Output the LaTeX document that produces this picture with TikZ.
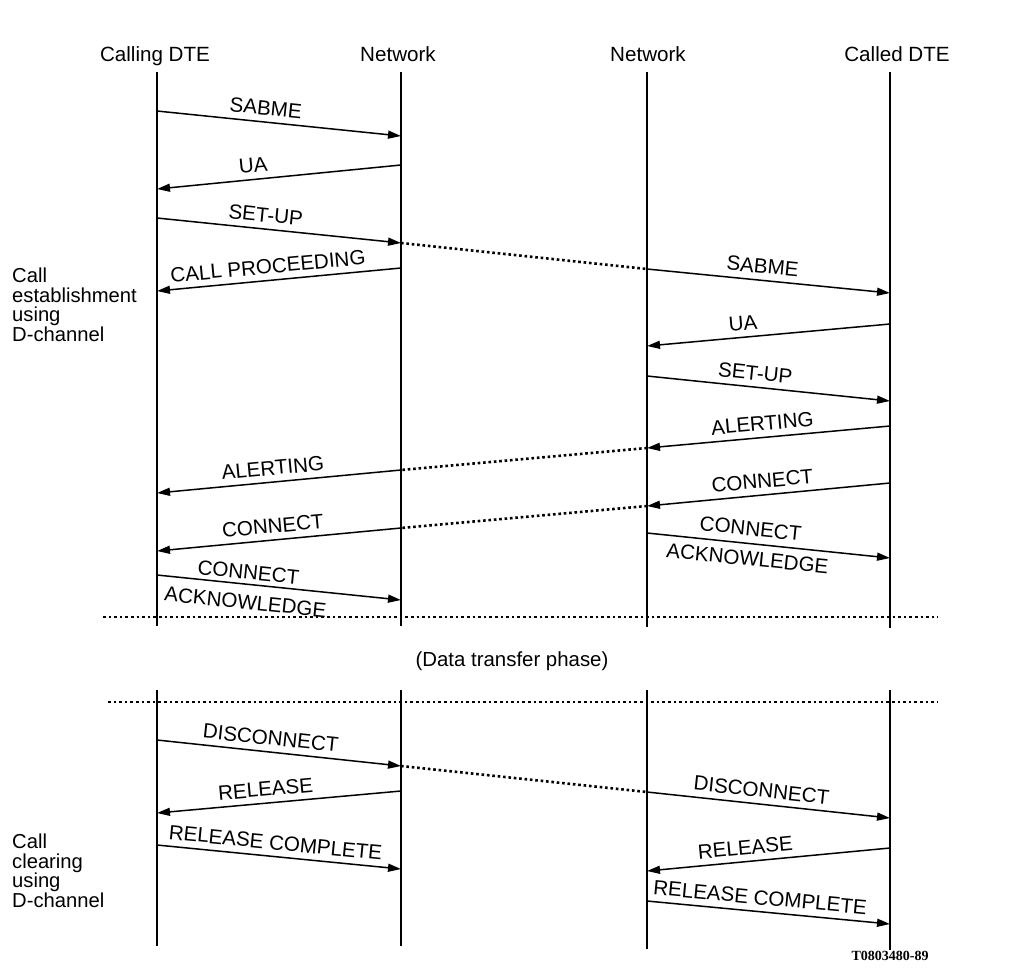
\documentclass[tikz,border=0pt]{standalone}
\usepackage{fontspec}
\setmainfont{Liberation Sans}
\newfontfamily\codefont{Liberation Serif}
\usetikzlibrary{arrows.meta}
\begin{document}
\begin{tikzpicture}[x=1pt,y=-1pt,
  life/.style={line width=1.8pt},
  msg/.style={line width=1.5pt,-{Triangle[length=13pt,width=8pt]}},
  relay/.style={line width=2.6pt,dash pattern=on 2.6pt off 2.8pt},
  phase/.style={line width=2.6pt,dash pattern=on 2.6pt off 3pt},
  lbl/.style={font=\fontsize{20.6}{23}\selectfont,sloped,inner sep=6pt},
  lbl2/.style={font=\fontsize{20.6}{30}\selectfont,sloped,inner sep=0pt,align=center,anchor=center},
  hdr/.style={font=\fontsize{20.6}{23}\selectfont,anchor=base,inner sep=0pt},
  side/.style={font=\fontsize{20.2}{19.5}\selectfont,align=left,anchor=north west,inner sep=0pt}]
\useasboundingbox (0,0) rectangle (1035,978);
% headers
\node[hdr] (hA) at (155,61) {Calling DTE};
\node[hdr] (hB) at (398,61) {Network};
\node[hdr] (hC) at (648,61) {Network};
\node[hdr] (hD) at (897,61) {Called DTE};
% lifelines (top part)
\coordinate (At) at (157,72);  \coordinate (Ab) at (157,626);
\coordinate (Bt) at (401,72);  \coordinate (Bb) at (401,626);
\coordinate (Ct) at (647,72);  \coordinate (Cb) at (647,627);
\coordinate (Dt) at (890,72);  \coordinate (Db) at (890,628);
\draw[life] (At) -- (Ab); \draw[life] (Bt) -- (Bb);
\draw[life] (Ct) -- (Cb); \draw[life] (Dt) -- (Db);
% lifelines (bottom part)
\coordinate (At2) at (157,690); \coordinate (Ab2) at (157,946);
\coordinate (Bt2) at (401,690); \coordinate (Bb2) at (401,946);
\coordinate (Ct2) at (647,690); \coordinate (Cb2) at (647,949);
\coordinate (Dt2) at (890,690); \coordinate (Db2) at (890,950);
\draw[life] (At2) -- (Ab2); \draw[life] (Bt2) -- (Bb2);
\draw[life] (Ct2) -- (Cb2); \draw[life] (Dt2) -- (Db2);
% message end points
\coordinate (A111) at (157,111); \coordinate (B136) at (401,136);
\coordinate (B165) at (401,165); \coordinate (A189) at (157,189);
\coordinate (A218) at (157,218); \coordinate (B243) at (401,243);
\coordinate (C269) at (647,269);
\coordinate (B268) at (401,268); \coordinate (A291) at (157,291);
\coordinate (D293) at (890,293);
\coordinate (D324) at (890,324); \coordinate (C346) at (647,346);
\coordinate (C376) at (647,376); \coordinate (D401) at (890,401);
\coordinate (D426) at (890,426); \coordinate (C448) at (647,448);
\coordinate (B470) at (401,470); \coordinate (A493) at (157,493);
\coordinate (D483) at (890,483); \coordinate (C506) at (647,506);
\coordinate (B528) at (401,528); \coordinate (A551) at (157,551);
\coordinate (C533) at (647,533); \coordinate (D558) at (890,558);
\coordinate (A575) at (157,575); \coordinate (B600) at (401,600);
% establishment messages
\draw[msg] (A111) -- node[lbl,above,pos=.44] {SABME} (B136);
\draw[msg] (B165) -- node[lbl,above,pos=.60] {UA} (A189);
\draw[msg] (A218) -- node[lbl,above,pos=.44] {SET-UP} (B243);
\draw[relay] (B243) -- (C269);
\draw[msg] (B268) -- node[lbl,above,pos=.54] {CALL PROCEEDING} (A291);
\draw[msg] (C269) -- node[lbl,above,pos=.47] {SABME} (D293);
\draw[msg] (D324) -- node[lbl,above,pos=.60] {UA} (C346);
\draw[msg] (C376) -- node[lbl,above,pos=.44] {SET-UP} (D401);
\draw[msg] (D426) -- node[lbl,above,pos=.52] {ALERTING} (C448);
\draw[relay] (C448) -- (B470);
\draw[msg] (B470) -- node[lbl,above,pos=.52] {ALERTING} (A493);
\draw[msg] (D483) -- node[lbl,above,pos=.52] {CONNECT} (C506);
\draw[relay] (C506) -- (B528);
\draw[msg] (B528) -- node[lbl,above,pos=.52] {CONNECT} (A551);
\draw[msg] (C533) -- node[lbl2,pos=.42] {CONNECT\\ACKNOWLEDGE} (D558);
\draw[msg] (A575) -- node[lbl2,pos=.37,yshift=-3pt] {CONNECT\\ACKNOWLEDGE} (B600);
% phase separators
\coordinate (p1l) at (103,617); \coordinate (p1r) at (938,617);
\coordinate (p2l) at (108,702); \coordinate (p2r) at (938,702);
\draw[phase] (p1l) -- (p1r);
\draw[phase] (p2l) -- (p2r);
\node[font=\fontsize{20.4}{23}\selectfont,inner sep=0pt] (dtp) at (512,661) {(Data transfer phase)};
% clearing messages
\coordinate (A740) at (157,740); \coordinate (B766) at (401,766);
\coordinate (C792) at (647,792);
\coordinate (B791) at (401,791); \coordinate (A813) at (157,813);
\coordinate (D818) at (890,818);
\coordinate (A845) at (157,845); \coordinate (B869) at (401,869);
\coordinate (D848) at (890,848); \coordinate (C871) at (647,871);
\coordinate (C901) at (647,901); \coordinate (D924) at (890,924);
\draw[msg] (A740) -- node[lbl,above,pos=.46] {DISCONNECT} (B766);
\draw[relay] (B766) -- (C792);
\draw[msg] (B791) -- node[lbl,above,pos=.55] {RELEASE} (A813);
\draw[msg] (C792) -- node[lbl,above,pos=.465] {DISCONNECT} (D818);
\draw[msg] (A845) -- node[lbl,above,pos=.48] {RELEASE COMPLETE} (B869);
\draw[msg] (D848) -- node[lbl,above,pos=.59] {RELEASE} (C871);
\draw[msg] (C901) -- node[lbl,above,pos=.46] {RELEASE COMPLETE} (D924);
% side labels
\node[side] (est) at (12,268) {Call\\establishment\\using\\D-channel};
\node[side] (clr) at (12,834) {Call\\clearing\\using\\D-channel};
% figure code
\node[font=\codefont\bfseries\fontsize{14}{16}\selectfont,inner sep=0pt] (code) at (890,956) {T0803480-89};
\end{tikzpicture}
\end{document}
